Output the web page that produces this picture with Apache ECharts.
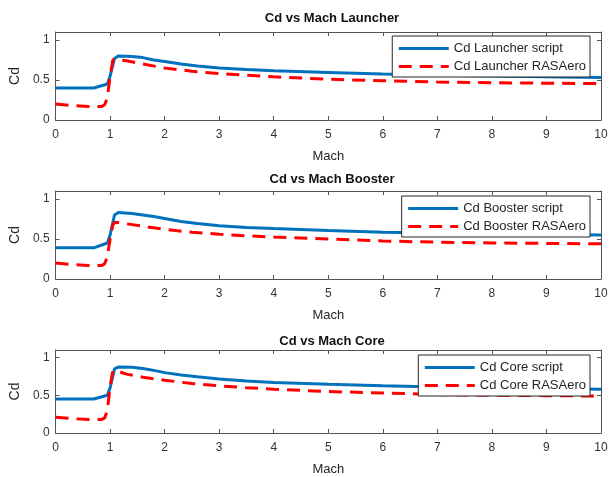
<!DOCTYPE html>
<html>
<head>
<meta charset="utf-8">
<script src="https://cdn.jsdelivr.net/npm/echarts@6/dist/echarts.min.js"></script>
<style>
  html, body { margin: 0; padding: 0; background: #fff; }
  #chart { width: 611px; height: 477px; }
</style>
</head>
<body>
<div id="chart"></div>
<script>
// Mach sample points for the in-house script and for RASAero
const machScript = [0, 0.7, 0.95, 1.0, 1.08, 1.15, 1.4, 1.6, 1.8, 2.0, 2.3, 2.6, 3.0, 3.5, 4, 5, 6, 7, 8, 9, 10];
const machRasaero = [0, 0.3, 0.6, 0.85, 0.9, 0.95, 1.0, 1.05, 1.1, 1.3, 1.6, 2.0, 2.5, 3.0, 3.5, 4, 5, 6, 7, 8, 9, 10];

// Drag coefficient per stage
const cdLauncherScript  = [0.40, 0.40, 0.45, 0.55, 0.77, 0.80, 0.795, 0.78, 0.75, 0.73, 0.70, 0.675, 0.65, 0.63, 0.615, 0.595, 0.575, 0.56, 0.55, 0.54, 0.53];
const cdLauncherRasaero = [0.20, 0.18, 0.17, 0.17, 0.19, 0.28, 0.55, 0.75, 0.76, 0.74, 0.70, 0.65, 0.61, 0.58, 0.56, 0.54, 0.51, 0.49, 0.475, 0.465, 0.46, 0.455];
const cdBoosterScript   = [0.39, 0.39, 0.45, 0.55, 0.80, 0.83, 0.82, 0.80, 0.78, 0.755, 0.72, 0.695, 0.665, 0.645, 0.63, 0.605, 0.585, 0.575, 0.565, 0.555, 0.55];
const cdBoosterRasaero  = [0.20, 0.18, 0.17, 0.17, 0.19, 0.28, 0.50, 0.68, 0.71, 0.69, 0.66, 0.62, 0.585, 0.56, 0.54, 0.525, 0.50, 0.475, 0.46, 0.45, 0.445, 0.44];
const cdCoreScript      = [0.45, 0.45, 0.50, 0.60, 0.85, 0.875, 0.87, 0.855, 0.83, 0.80, 0.77, 0.745, 0.715, 0.69, 0.67, 0.645, 0.625, 0.61, 0.60, 0.59, 0.58];
const cdCoreRasaero     = [0.21, 0.19, 0.18, 0.18, 0.20, 0.30, 0.62, 0.82, 0.83, 0.78, 0.74, 0.70, 0.655, 0.625, 0.60, 0.58, 0.55, 0.53, 0.51, 0.50, 0.495, 0.49];

const stageNames = ['Launcher', 'Booster', 'Core'];
const scriptData = [cdLauncherScript, cdBoosterScript, cdCoreScript];
const rasaeroData = [cdLauncherRasaero, cdBoosterRasaero, cdCoreRasaero];

const gridTops = [32, 191, 350];
const plotHeight = 88;
const titleTops = [7, 168, 330];
const legendTops = [36, 196, 355];

const ink = '#262626';
const boxColor = '#555';

const pairs = (xs, ys) => xs.map((x, i) => [x, ys[i]]);

const option = {
  animation: false,
  title: [], grid: [], xAxis: [], yAxis: [], series: [], legend: []
};

stageNames.forEach((stage, i) => {
  option.title.push({
    text: 'Cd vs Mach ' + stage,
    left: 327, top: titleTops[i], textAlign: 'center',
    textStyle: { fontFamily: 'Liberation Sans', fontSize: 13, fontWeight: 'bold', color: '#111' }
  });
  option.grid.push({ left: 54, right: 10, top: gridTops[i], height: plotHeight });

  const tickCommon = { inside: true, length: 4, lineStyle: { color: boxColor } };
  // bottom axis with labels
  option.xAxis.push({
    type: 'value', gridIndex: i, min: 0, max: 10, interval: 1, position: 'bottom',
    name: 'Mach', nameLocation: 'middle', nameGap: 30,
    nameTextStyle: { fontFamily: 'Liberation Sans', fontSize: 13, color: ink },
    axisLine: { show: true, onZero: false, lineStyle: { color: boxColor } },
    axisTick: tickCommon, splitLine: { show: false },
    axisLabel: { fontFamily: 'Liberation Sans', fontSize: 12, color: '#333', margin: 9 }
  });
  // top edge of the box
  option.xAxis.push({
    type: 'value', gridIndex: i, min: 0, max: 10, interval: 1, position: 'top',
    axisLine: { show: true, onZero: false, lineStyle: { color: boxColor } },
    axisTick: tickCommon, splitLine: { show: false }, axisLabel: { show: false }
  });
  // left axis with labels
  option.yAxis.push({
    type: 'value', gridIndex: i, min: 0, max: 1.1, interval: 0.5, position: 'left',
    name: 'Cd', nameLocation: 'middle', nameGap: 31, nameRotate: 90,
    nameTextStyle: { fontFamily: 'Liberation Sans', fontSize: 14, color: ink },
    axisLine: { show: true, onZero: false, lineStyle: { color: boxColor } },
    axisTick: tickCommon, splitLine: { show: false },
    axisLabel: { fontFamily: 'Liberation Sans', fontSize: 12, color: '#333', margin: 6 }
  });
  // right edge of the box
  option.yAxis.push({
    type: 'value', gridIndex: i, min: 0, max: 1.1, interval: 0.5, position: 'right',
    axisLine: { show: true, onZero: false, lineStyle: { color: boxColor } },
    axisTick: tickCommon, splitLine: { show: false }, axisLabel: { show: false }
  });

  const scriptName = 'Cd ' + stage + ' script';
  const rasaeroName = 'Cd ' + stage + ' RASAero';
  option.series.push({
    name: scriptName, type: 'line', xAxisIndex: 2 * i, yAxisIndex: 2 * i,
    data: pairs(machScript, scriptData[i]), symbol: 'none',
    lineStyle: { color: '#0072BD', width: 3 }, itemStyle: { color: '#0072BD' }, z: 2
  });
  option.series.push({
    name: rasaeroName, type: 'line', xAxisIndex: 2 * i, yAxisIndex: 2 * i,
    data: pairs(machRasaero, rasaeroData[i]), symbol: 'none',
    lineStyle: { color: '#FF0000', width: 3, type: [13, 8] }, itemStyle: { color: '#FF0000' }, z: 3
  });
  option.legend.push({
    data: [scriptName, rasaeroName], orient: 'vertical',
    right: 21, top: legendTops[i],
    itemWidth: 50, itemHeight: 14, itemGap: 5,
    padding: [6, 4, 4, 5],
    itemStyle: { opacity: 0 },
    lineStyle: { width: 3 },
    backgroundColor: '#fff', borderColor: ink, borderWidth: 1,
    textStyle: { fontFamily: 'Liberation Sans', fontSize: 13, color: ink },
    selectedMode: false
  });
});

const chart = echarts.init(document.getElementById('chart'), null, { renderer: 'canvas' });
chart.setOption(option);
</script>
</body>
</html>
